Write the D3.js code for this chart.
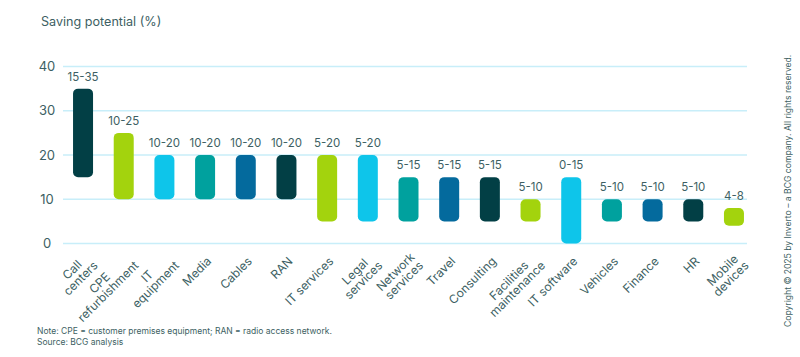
<!DOCTYPE html>
<html>
<head>
<meta charset="utf-8">
<script src="https://cdn.jsdelivr.net/npm/d3@7"></script>
<style>
  html, body { margin: 0; padding: 0; background: #ffffff; }
  svg { display: block; font-family: "Inter", "Lato", sans-serif; }
</style>
</head>
<body>
<svg id="chart" width="800" height="357"></svg>
<script>
const categories = ["Call\ncenters", "CPE\nrefurbishment", "IT\nequipment", "Media", "Cables", "RAN",
  "IT services", "Legal\nservices", "Network\nservices", "Travel", "Consulting",
  "Facilities\nmaintenance", "IT software", "Vehicles", "Finance", "HR", "Mobile\ndevices"];
const lowValues  = [15, 10, 10, 10, 10, 10, 5, 5, 5, 5, 5, 5, 0, 5, 5, 5, 4];
const highValues = [35, 25, 20, 20, 20, 20, 20, 20, 15, 15, 15, 10, 15, 10, 10, 10, 8];
const rangeLabels = ["15-35", "10-25", "10-20", "10-20", "10-20", "10-20", "5-20", "5-20",
  "5-15", "5-15", "5-15", "5-10", "0-15", "5-10", "5-10", "5-10", "4-8"];
const yTicks = [0, 10, 20, 30, 40];
const palette = ["#023f45", "#a3d30d", "#0ec5ea", "#00a19e", "#046a9d"];

const title = "Saving potential (%)";
const noteLines = ["Note: CPE = customer premises equipment; RAN = radio access network.", "Source: BCG analysis"];
const copyright = "Copyright © 2025 by Inverto – a BCG company. All rights reserved.";

const svg = d3.select("#chart");
const textColor = "#3d5f63";

const x = d3.scaleBand().domain(d3.range(categories.length)).range([62.7, 754.3]).paddingInner(0.5).paddingOuter(0.25);
const y = d3.scaleLinear().domain([0, 40]).range([243.5, 66.5]);
const barW = 20;

// title
svg.append("text").attr("x", 41).attr("y", 26).attr("fill", textColor)
  .attr("font-size", 12.6).text(title);

// grid
const yAxis = d3.axisLeft(y).tickValues(yTicks).tickSize(0).tickPadding(0);
svg.append("g").selectAll("line.grid").data(yTicks).join("line")
  .attr("class", "grid")
  .attr("x1", 63).attr("x2", 747)
  .attr("y1", d => y(d)).attr("y2", d => y(d))
  .attr("stroke", "#c8eef9").attr("stroke-width", 1.5);
const ga = svg.append("g").attr("transform", "translate(47,0)").call(yAxis);
ga.select(".domain").remove();
ga.selectAll("text").attr("text-anchor", "middle").attr("fill", textColor)
  .attr("font-size", 13).attr("font-family", "Inter, Lato, sans-serif");

// bars
const cx = i => x(i) + x.bandwidth() / 2;
svg.append("g").selectAll("rect").data(categories).join("rect")
  .attr("x", (d, i) => cx(i) - barW / 2)
  .attr("width", barW)
  .attr("y", (d, i) => y(highValues[i]))
  .attr("height", (d, i) => y(lowValues[i]) - y(highValues[i]))
  .attr("rx", 5).attr("ry", 5)
  .attr("fill", (d, i) => palette[i % palette.length]);

// value labels
svg.append("g").selectAll("text").data(rangeLabels).join("text")
  .attr("x", (d, i) => cx(i))
  .attr("y", (d, i) => y(highValues[i]) - 8)
  .attr("text-anchor", "middle")
  .attr("fill", textColor).attr("font-size", 11.5)
  .text(d => d);

// category labels (rotated, centered lines)
const lh = 12;
const labels = svg.append("g").selectAll("g").data(categories).join("g");
labels.each(function(d, i) {
  const lines = d.split("\n");
  const g = d3.select(this);
  const t = g.append("text").attr("fill", textColor).attr("font-size", 12)
    .attr("text-anchor", "middle");
  const spans = lines.map((ln, k) => t.append("tspan").attr("y", k * lh).text(ln));
  const widths = spans.map(s => s.node().getComputedTextLength());
  const maxW = d3.max(widths);
  const multi = lines.length > 1;
  spans.forEach(s => s.attr("x", -maxW / 2 + (multi ? 3 : 0)));
  if (multi) t.attr("transform", "translate(0,-3)");
  g.attr("transform", `translate(${cx(i) + 7},262) rotate(-45)`);
});

// notes
svg.append("g").selectAll("text").data(noteLines).join("text")
  .attr("x", 37).attr("y", (d, i) => 334 + i * 11)
  .attr("fill", textColor).attr("font-size", 8.5)
  .text(d => d);

// copyright
svg.append("text")
  .attr("transform", "translate(791,327) rotate(-90)")
  .attr("fill", textColor).attr("font-size", 8.6)
  .text(copyright);
</script>
</body>
</html>
